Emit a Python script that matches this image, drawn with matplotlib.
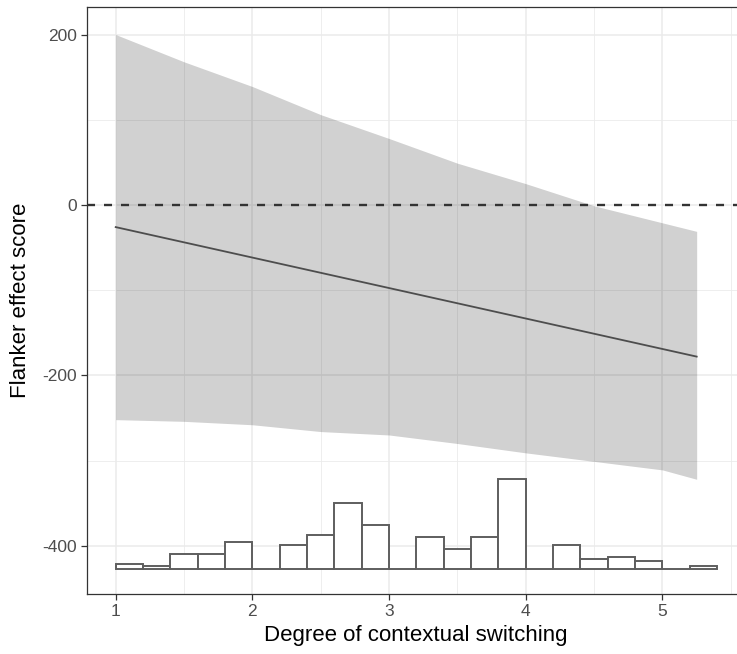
import matplotlib
matplotlib.use("Agg")
import matplotlib.pyplot as plt
import numpy as np

# ---- data ----
# confidence band (x, upper, lower)
band_x = [1.0, 1.5, 2.0, 2.5, 3.0, 3.5, 4.0, 4.5, 5.0, 5.25]
band_upper = [200, 168, 139, 106, 78, 49, 25, -1, -21, -31]
band_lower = [-252, -254, -258, -266, -270, -280, -291, -301, -311, -322]
# fitted line endpoints
line_x = [1.0, 5.25]
line_y = [-26, -178]
# histogram of moderator (bins of 0.2 starting at 1.0)
hist_edges = [1.0, 1.2, 1.4, 1.6, 1.8, 2.0, 2.2, 2.4, 2.6, 2.8, 3.0, 3.2,
              3.4, 3.6, 3.8, 4.0, 4.2, 4.4, 4.6, 4.8, 5.0, 5.2, 5.4]
hist_counts = [2, 1, 6, 6, 11, 0, 10, 14, 27, 18, 0, 13, 8, 13, 37, 0,
               10, 4, 5, 3, 0, 1]
hist_base = -427
hist_unit = 2.84  # y-units per count

x_ticks = [1, 2, 3, 4, 5]
y_ticks = [-400, -200, 0, 200]
y_ticklabels = ["-400", "-200", "0", "200"]
x_label = "Degree of contextual switching"
y_label = "Flanker effect score"

# ---- figure ----
plt.rcParams['font.family'] = ['Liberation Sans', 'DejaVu Sans']
W, H = 737, 654
fig = plt.figure(figsize=(W / 100, H / 100), dpi=100)
left_px, right_px, top_px, bot_px = 87, 737, 7.3, 594.3
ax = fig.add_axes([left_px / W, (H - bot_px) / H,
                   (right_px - left_px) / W, (bot_px - top_px) / H])

ax.set_xlim(0.79, 5.545)
ax.set_ylim(-457, 232)

# grid
for v in [1.5, 2.5, 3.5, 4.5, 5.5]:
    ax.axvline(v, color='#EBEBEB', lw=0.6, zorder=0)
for v in [-300, -100, 100]:
    ax.axhline(v, color='#EBEBEB', lw=0.6, zorder=0)
for v in x_ticks:
    ax.axvline(v, color='#EBEBEB', lw=1.1, zorder=0)
for v in y_ticks:
    ax.axhline(v, color='#EBEBEB', lw=1.1, zorder=0)

# ribbon
ax.fill_between(band_x, band_lower, band_upper, color='black', alpha=0.18,
                lw=0, zorder=1)
# fitted line
ax.plot(line_x, line_y, color='#4D4D4D', lw=1.3, zorder=2)
# zero reference line
ax.axhline(0, color='#333333', lw=1.7, dashes=(3.4, 3.8), zorder=3)

# histogram
edges = np.array(hist_edges)
heights = np.array(hist_counts) * hist_unit
ax.bar(edges[:-1], heights, width=np.diff(edges), bottom=hist_base,
       align='edge', facecolor='white', edgecolor='#5E5E5E', lw=1.4,
       zorder=4)

# axes styling
for s in ['left', 'bottom', 'top']:
    ax.spines[s].set_color('#333333')
    ax.spines[s].set_linewidth(0.9)
ax.spines['right'].set_visible(False)

ax.set_xticks(x_ticks)
ax.set_xticklabels([str(t) for t in x_ticks])
ax.set_yticks(y_ticks)
ax.set_yticklabels(y_ticklabels)
ax.tick_params(axis='both', colors='#333333', length=4.3, width=0.9,
               labelsize=12.5, labelcolor='#4D4D4D', pad=3)

ax.set_xlabel(x_label, fontsize=16, color='black')
ax.xaxis.set_label_coords((416 - left_px) / (right_px - left_px),
                          -(636 - bot_px) / (bot_px - top_px))
ax.xaxis.label.set_va('center')
ax.set_ylabel(y_label, fontsize=16, color='black')
ax.yaxis.set_label_coords((21 - left_px) / (right_px - left_px), 0.5)
ax.yaxis.label.set_va('center')

fig.savefig('out.png', dpi=100)
